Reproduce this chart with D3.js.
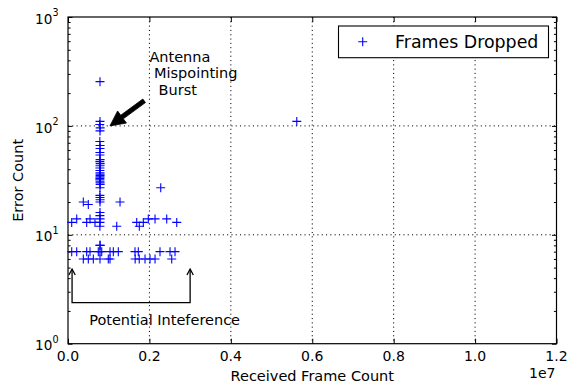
<!DOCTYPE html>
<html>
<head>
<meta charset="utf-8">
<script src="https://cdn.jsdelivr.net/npm/d3@7"></script>
<style>
  html, body { margin: 0; padding: 0; background: #fff; }
  svg { display: block; }
  text { font-family: "DejaVu Sans", sans-serif; fill: #000; }
</style>
</head>
<body>
<script>
// Burst column: frames received near 0.08e7, error counts spread from 6 to ~255
const burstFrames = [786000, 786000, 780000, 790000, 786000, 782000, 788000, 786000, 784000, 786000,
  788000, 786000, 784000, 786000, 788000, 786000, 784000, 786000, 788000, 786000,
  784000, 786000, 788000, 786000, 786000, 784000, 788000, 786000, 784000, 786000,
  788000, 786000, 786000, 782000, 790000, 784000, 788000, 782000, 790000];
const burstErrors = [255, 110, 103, 96, 90, 72, 66, 62, 57, 54,
  49, 43, 41, 37, 36, 34, 33, 31, 30, 27,
  23, 22, 21, 20, 16, 15, 14, 13, 12, 8,
  8, 7, 6, 47, 45, 39, 35, 32, 29];

// Scattered low-error observations
const otherFrames = [
  91000, 214000, 459000, 541000, 744000, 828000, 1032000, 1113000, 1236000, 1646000, 1727000, 2260000, 2506000, 2629000,
  376000, 499000, 622000, 990000, 1032000, 1650000, 1750000, 1892000, 2015000, 2138000, 2548000,
  91000, 214000, 459000, 541000, 663000, 1197000, 1688000, 1752000, 1850000, 1973000, 2138000, 2425000, 2671000,
  376000, 499000, 1278000, 2278000, 5620000];
const otherErrors = [
  7, 7, 7, 7, 7, 7, 7, 7, 7, 7, 7, 7, 7, 7,
  6, 6, 6, 6, 6, 6, 6, 6, 6, 6, 6,
  13, 14, 13, 14, 13, 12, 13, 12, 13, 14, 14, 14, 13,
  20, 19, 20, 27, 110];

const xTickValues = [0, 2e6, 4e6, 6e6, 8e6, 10e6, 12e6];
const xTickLabels = ["0.0", "0.2", "0.4", "0.6", "0.8", "1.0", "1.2"];
const yTickValues = [1, 10, 100, 1000];
const yTickExponents = ["0", "1", "2", "3"];

const seriesName = "Frames Dropped";
const xTitle = "Received Frame Count";
const yTitle = "Error Count";
const xOffsetText = "1e7";

// Annotation anchors, in data units
const burstArrow = { tail: [1.87e6, 170], tip: [1.03e6, 100] };
const burstLabel = { at: [2.0e6, 320], lines: ["Antenna", " Mispointing", "  Burst"] };
const bracket = { x0: 1e5, x1: 3e6, yEnd: 4.85, yBar: 2.38 };
const bracketLabel = { at: [5.2e5, 1.58], text: "Potential Inteference" };

const W = 568, H = 386;
const mLeft = 68, mRight = 556.5, mTop = 17, mBottom = 343.7;

const svg = d3.select("body").append("svg").attr("width", W).attr("height", H);

const x = d3.scaleLinear().domain([0, 1.2e7]).range([mLeft, mRight]);
const y = d3.scaleLog().domain([1, 1000]).range([mBottom, mTop]);

// grid
const grid = svg.append("g").attr("stroke", "#000").attr("stroke-width", 1)
  .attr("stroke-dasharray", "1.1,3.2");
grid.selectAll("line.gx").data(xTickValues.slice(1, -1)).join("line")
  .attr("x1", d => x(d)).attr("x2", d => x(d)).attr("y1", mTop).attr("y2", mBottom);
grid.selectAll("line.gy").data([10, 100]).join("line")
  .attr("x1", mLeft).attr("x2", mRight).attr("y1", d => y(d)).attr("y2", d => y(d));

// ticks (inward on all four sides)
const minor = [];
[1, 10, 100].forEach(b => { for (let k = 2; k <= 9; k++) minor.push(b * k); });

function tickAxis(axis, tx, ty) {
  const g = svg.append("g").attr("transform", `translate(${tx},${ty})`).call(axis);
  g.select(".domain").remove();
  g.selectAll("text").remove();
  g.selectAll("line").attr("stroke", "#000").attr("stroke-width", 1);
  return g;
}
tickAxis(d3.axisBottom(x).tickValues(xTickValues).tickSize(-5), 0, mBottom);
tickAxis(d3.axisTop(x).tickValues(xTickValues).tickSize(-5), 0, mTop);
tickAxis(d3.axisLeft(y).tickValues(yTickValues).tickSize(-4.5), mLeft, 0);
tickAxis(d3.axisRight(y).tickValues(yTickValues).tickSize(-4.5), mRight, 0);
tickAxis(d3.axisLeft(y).tickValues(minor).tickSize(-2.6), mLeft, 0);
tickAxis(d3.axisRight(y).tickValues(minor).tickSize(-2.6), mRight, 0);

// frame
svg.append("rect").attr("x", mLeft).attr("y", mTop)
  .attr("width", mRight - mLeft).attr("height", mBottom - mTop)
  .attr("fill", "none").attr("stroke", "#000").attr("stroke-width", 1.2);

// tick labels
svg.append("g").selectAll("text").data(xTickValues).join("text")
  .attr("x", d => x(d)).attr("y", mBottom + 17.3)
  .attr("text-anchor", "middle").attr("font-size", 14)
  .text((d, i) => xTickLabels[i]);

const yl = svg.append("g").selectAll("text").data(yTickValues).join("text")
  .attr("x", mLeft - 9.5).attr("y", d => y(d) + 6.6)
  .attr("text-anchor", "end").attr("font-size", 13.6);
yl.append("tspan").text("10");
yl.append("tspan").attr("dy", -7.3).attr("font-size", 9.6).text((d, i) => yTickExponents[i]);

svg.append("text").attr("x", mRight - 1).attr("y", 378)
  .attr("text-anchor", "end").attr("font-size", 14).text(xOffsetText);

// axis titles
svg.append("text").attr("x", (mLeft + mRight) / 2).attr("y", 380.5)
  .attr("text-anchor", "middle").attr("font-size", 14.5).text(xTitle);
svg.append("text").attr("transform", `translate(23.3,${(mTop + mBottom) / 2}) rotate(-90)`)
  .attr("text-anchor", "middle").attr("font-size", 14.5).text(yTitle);

// markers
const plus = "M-4.5,0H4.5M0,-4.5V4.5";
const pts = burstFrames.map((f, i) => [f, burstErrors[i]])
  .concat(otherFrames.map((f, i) => [f, otherErrors[i]]));
svg.append("g").selectAll("path").data(pts).join("path")
  .attr("d", plus)
  .attr("transform", d => `translate(${x(d[0])},${y(d[1])})`)
  .attr("fill", "none").attr("stroke", "#0000ff").attr("stroke-width", 1.1);

// burst annotation arrow (filled, wide head)
(function () {
  const [tx, ty] = [x(burstArrow.tail[0]), y(burstArrow.tail[1])];
  const [px, py] = [x(burstArrow.tip[0]), y(burstArrow.tip[1])];
  const len = Math.hypot(px - tx, py - ty);
  const ux = (px - tx) / len, uy = (py - ty) / len;
  const nx = -uy, ny = ux;
  const hl = 15, hw = 7.5, sw = 2.2;
  const bx = px - ux * hl, by = py - uy * hl;
  const p = [
    [tx + nx * sw, ty + ny * sw], [bx + nx * sw, by + ny * sw], [bx + nx * hw, by + ny * hw],
    [px, py],
    [bx - nx * hw, by - ny * hw], [bx - nx * sw, by - ny * sw], [tx - nx * sw, ty - ny * sw]
  ];
  svg.append("path").attr("d", "M" + p.map(q => q.join(",")).join("L") + "Z")
    .attr("fill", "#000").attr("stroke", "#000").attr("stroke-width", 0.8)
    .attr("stroke-linejoin", "miter");
})();

const bl = svg.append("text").attr("font-size", 14.5).attr("xml:space", "preserve")
  .style("white-space", "pre");
burstLabel.lines.forEach((s, i) => {
  bl.append("tspan").attr("x", x(burstLabel.at[0])).attr("y", 61.7 + i * 16.4).text(s);
});

// interference bracket with open arrowheads
const bx0 = x(bracket.x0), bx1 = x(bracket.x1), byEnd = y(bracket.yEnd), byBar = y(bracket.yBar);
svg.append("path")
  .attr("d", `M${bx0},${byEnd}V${byBar}H${bx1}V${byEnd}`)
  .attr("fill", "none").attr("stroke", "#000").attr("stroke-width", 1.3);
[bx0, bx1].forEach(cx => {
  svg.append("path")
    .attr("d", `M${cx - 3.2},${byEnd + 6}L${cx},${byEnd}L${cx + 3.2},${byEnd + 6}`)
    .attr("fill", "none").attr("stroke", "#000").attr("stroke-width", 1.3);
});
svg.append("text").attr("x", x(bracketLabel.at[0])).attr("y", 325)
  .attr("font-size", 14.5).text(bracketLabel.text);

// legend
const lg = svg.append("g");
lg.append("rect").attr("x", 338.5).attr("y", 26).attr("width", 210).attr("height", 31.7)
  .attr("fill", "#fff").attr("stroke", "#000").attr("stroke-width", 1.1);
lg.append("path").attr("d", plus).attr("transform", "translate(362.7,41.7)")
  .attr("fill", "none").attr("stroke", "#0000ff").attr("stroke-width", 1.1);
lg.append("text").attr("x", 395).attr("y", 47.5).attr("font-size", 17.4).text(seriesName);
</script>
</body>
</html>
